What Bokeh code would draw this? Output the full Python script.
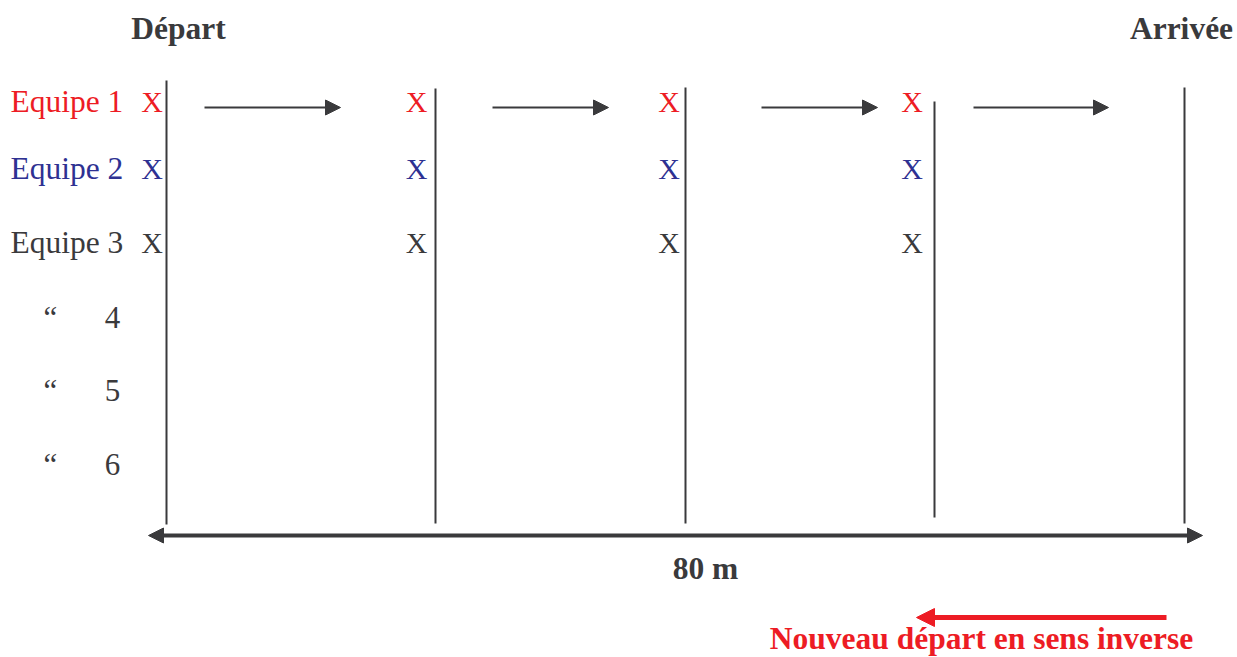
from bokeh.plotting import figure
from bokeh.models import Range1d, Arrow, NormalHead, ColumnDataSource
from bokeh.core.properties import value
from bokeh.embed import file_html
from bokeh.resources import INLINE

RED = "#ed1c24"
BLUE = "#2e3192"
DARK = "#3a3a3c"
FONT = "Liberation Serif"

# --- diagram data (coordinates in picture units) ---
header_labels = ["Départ", "Arrivée"]
header_x = [178, 1181]
header_y = [28, 28]

lane_x = [166, 435, 685, 934, 1184]          # start line, relay lines, finish line
lane_top = [80, 88, 87, 101, 87]
lane_bottom = [524, 523, 523, 517, 523]

team_labels = ["Equipe 1", "Equipe 2", "Equipe 3"]
team_colors = [RED, BLUE, DARK]
team_y = [101, 168, 242]
marker_x = [151.5, 416, 668.5, 911.5]        # runner positions "X"

other_quotes = ["“", "“", "“"]
other_numbers = ["4", "5", "6"]
other_y = [317, 390, 464]

run_x0 = [204, 492, 761, 973]
run_x1 = [340, 608, 877, 1108]
run_y = [107, 107, 107, 107]

distance_label = "80 m"
distance_x0, distance_x1, distance_y = 148, 1202, 535

return_label = "Nouveau départ en sens inverse"
return_x0, return_x1, return_y = 1166, 916, 617

p = figure(width=1237, height=657, x_range=Range1d(0, 1237), y_range=Range1d(657, 0),
           output_backend="svg", toolbar_location=None, min_border=0,
           background_fill_color="white", border_fill_color="white")
p.axis.visible = False
p.grid.visible = False
p.outline_line_color = None

# vertical lines
p.segment(x0=lane_x, y0=lane_top, x1=lane_x, y1=lane_bottom, line_width=2, line_color=DARK)

# headers
p.text(x=header_x, y=header_y, text=header_labels, text_font=value(FONT), text_font_size="31.5px",
       text_font_style="bold", text_color=DARK, text_align="center", text_baseline="alphabetic")

# team labels
p.text(x=[10] * len(team_labels), y=team_y, text=team_labels, text_color=team_colors,
       text_font=value(FONT), text_font_size="31.5px", text_align="left", text_baseline="alphabetic")

# X markers
mx, my, mc = [], [], []
for ty, tc in zip(team_y, team_colors):
    for xx in marker_x:
        mx.append(xx)
        my.append(ty)
        mc.append(tc)
p.text(x=mx, y=my, text=["X"] * len(mx), text_color=mc, text_font=value(FONT),
       text_font_size="30px", text_align="center", text_baseline="alphabetic")

# other teams
p.text(x=[43] * 3, y=other_y, text=other_quotes, text_color=DARK, text_font=value(FONT),
       text_font_size="31px", text_align="left", text_baseline="alphabetic")
p.text(x=[112] * 3, y=other_y, text=other_numbers, text_color=DARK, text_font=value(FONT),
       text_font_size="31px", text_align="center", text_baseline="alphabetic")

# running arrows
src = ColumnDataSource(dict(x0=run_x0, x1=run_x1, y=run_y))
p.add_layout(Arrow(source=src, x_start="x0", y_start="y", x_end="x1", y_end="y",
                   line_color=DARK, line_width=2,
                   end=NormalHead(size=15, fill_color=DARK, line_color=DARK, line_width=1)))

# distance double arrow
p.add_layout(Arrow(x_start=distance_x0, y_start=distance_y, x_end=distance_x1, y_end=distance_y,
                   line_color=DARK, line_width=4,
                   start=NormalHead(size=15, fill_color=DARK, line_color=DARK, line_width=1),
                   end=NormalHead(size=15, fill_color=DARK, line_color=DARK, line_width=1)))
p.text(x=[705], y=[568], text=[distance_label], text_color=DARK, text_font=value(FONT),
       text_font_size="31.5px", text_font_style="bold", text_align="center", text_baseline="alphabetic")

# return arrow
p.add_layout(Arrow(x_start=return_x0, y_start=return_y, x_end=return_x1, y_end=return_y,
                   line_color=RED, line_width=5,
                   end=NormalHead(size=18, fill_color=RED, line_color=RED, line_width=1)))
p.text(x=[981], y=[638], text=[return_label], text_color=RED, text_font=value(FONT),
       text_font_size="31.5px", text_font_style="bold", text_align="center", text_baseline="alphabetic")

open("out.html", "w").write(file_html(p, INLINE))
